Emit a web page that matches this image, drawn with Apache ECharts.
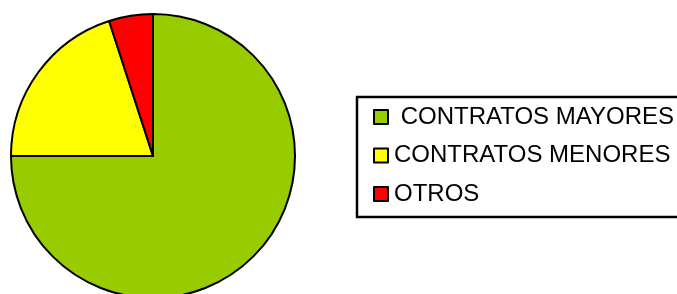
<!DOCTYPE html>
<html>
<head>
<meta charset="utf-8">
<script src="https://cdn.jsdelivr.net/npm/echarts@6/dist/echarts.min.js"></script>
<style>html,body{margin:0;padding:0;background:#fff;}#c{width:677px;height:294px;}</style>
</head>
<body>
<div id="c"></div>
<script>
const categories = ["CONTRATOS MAYORES", "CONTRATOS MENORES", "OTROS"];
const values = [75, 20, 5];
const colors = ["#99CC00", "#FFFF00", "#FF0000"];

const chart = echarts.init(document.getElementById('c'), null, {renderer: 'canvas'});
chart.setOption({
  animation: false,
  backgroundColor: '#ffffff',
  color: colors,
  legend: {
    orient: 'vertical',
    left: 357,
    top: 97,
    padding: [8, 30, 11, 16],
    itemGap: 14.5,
    itemWidth: 14,
    itemHeight: 14,
    icon: 'rect',
    borderColor: '#000',
    borderWidth: 2.5,
    itemStyle: {borderColor: '#000', borderWidth: 2},
    formatter: function (name) { return name === categories[0] ? ' ' + name : name; },
    textStyle: {fontFamily: 'Liberation Sans, Arial, sans-serif', fontSize: 24, lineHeight: 24, color: '#000', padding: [0, 0, 0, 1]},
    data: categories
  },
  series: [{
    type: 'pie',
    center: [153, 156],
    radius: 142,
    startAngle: 90,
    clockwise: true,
    label: {show: false},
    labelLine: {show: false},
    emphasis: {disabled: true},
    itemStyle: {borderColor: '#000', borderWidth: 2},
    data: categories.map((n, i) => ({name: n, value: values[i]}))
  }]
});
</script>
</body>
</html>
